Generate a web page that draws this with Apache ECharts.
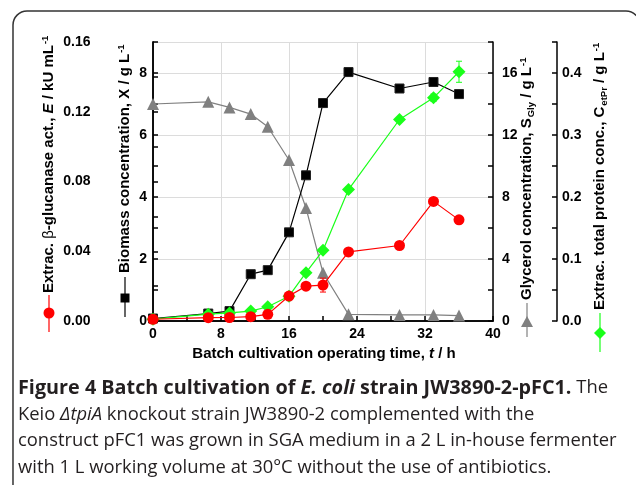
<!DOCTYPE html>
<html>
<head>
<meta charset="utf-8">
<script src="https://cdn.jsdelivr.net/npm/echarts@6/dist/echarts.min.js"></script>
<style>
html,body{margin:0;padding:0;background:#fff;}
#chart{width:636px;height:485px;}
</style>
</head>
<body>
<div id="chart"></div>
<script>
// ---- data ----
var time = [0, 6.5, 9, 11.5, 13.5, 16, 18, 20, 23, 29, 33, 36];
var biomass = [0.08, 0.24, 0.32, 1.51, 1.64, 2.86, 4.70, 7.03, 8.03, 7.50, 7.71, 7.32];
var enzyme = [0.001, 0.0019, 0.002, 0.0025, 0.0038, 0.0143, 0.020, 0.0206, 0.0396, 0.0433, 0.0686, 0.058];
var enzymeErr = [0, 0, 0, 0, 0, 0.001, 0.001, 0.004, 0.001, 0.002, 0.001, 0.0015];
var glycerol = [14.0, 14.14, 13.78, 13.35, 12.53, 10.39, 7.29, 3.11, 0.43, 0.39, 0.39, 0.35];
var protein = [0.003, 0.011, 0.013, 0.016, 0.023, 0.040, 0.078, 0.114, 0.212, 0.325, 0.360, 0.402];
var proteinErr = [0, 0, 0, 0, 0, 0, 0, 0.002, 0.004, 0.003, 0.006, 0.017];
var xTicks = [0, 8, 16, 24, 32, 40];

function pairs(ys) { return time.map(function (t, i) { return [t, ys[i]]; }); }
function triples(ys, es) { return time.map(function (t, i) { return [t, ys[i], es[i]]; }); }

var FONT = '"Liberation Sans", Arial, sans-serif';
var CAP = '"Open Sans", "Noto Sans", sans-serif';
var axisLineStyle = { color: '#000', width: 1.5 };
var labelStyle = { fontFamily: FONT, fontWeight: 'bold', fontSize: 14, color: '#000' };

function errRender(color) {
  return function (params, api) {
    var x = api.value(0), y = api.value(1), e = api.value(2);
    if (!e) return null;
    var top = api.coord([x, y + e]);
    var bot = api.coord([x, y - e]);
    var s = { stroke: color, lineWidth: 1 };
    return {
      type: 'group',
      children: [
        { type: 'line', shape: { x1: top[0], y1: top[1], x2: bot[0], y2: bot[1] }, style: s },
        { type: 'line', shape: { x1: top[0] - 3, y1: top[1], x2: top[0] + 3, y2: top[1] }, style: s },
        { type: 'line', shape: { x1: bot[0] - 3, y1: bot[1], x2: bot[0] + 3, y2: bot[1] }, style: s }
      ]
    };
  };
}

var TS = 15;
var sup = { fontFamily: FONT, fontWeight: 'bold', fontSize: 9.5, padding: [0, 0, 8, 1] };
var sub = { fontFamily: FONT, fontWeight: 'bold', fontSize: 9.5, padding: [8, 0, 0, 1] };
var tb = { fontFamily: FONT, fontWeight: 'bold', fontSize: TS, color: '#000' };
var ti = { fontFamily: FONT, fontWeight: 'bold', fontStyle: 'italic', fontSize: TS, color: '#000' };
var tn = { fontFamily: FONT, fontWeight: 'normal', fontSize: TS, color: '#000' };
var titleRich = { b: tb, i: ti, n: tn, sup: sup, sub: sub };

function vtitle(x, y, text) {
  return {
    type: 'text', x: x, y: y, rotation: Math.PI / 2,
    style: { text: text, rich: titleRich, align: 'left', verticalAlign: 'middle', fill: '#000' }
  };
}

var CS = 18.4;
var capR = { fontFamily: CAP, fontSize: CS, fill: '#231f20' };
var capI = { fontFamily: CAP, fontStyle: 'italic', fontSize: CS, fill: '#231f20' };
var capB = { fontFamily: CAP, fontWeight: 'bold', fontSize: 19.8, fill: '#231f20' };
var capBI = { fontFamily: CAP, fontWeight: 'bold', fontStyle: 'italic', fontSize: 19.8, fill: '#231f20' };

var chart = echarts.init(document.getElementById('chart'));
chart.setOption({
  backgroundColor: '#fff',
  animation: false,
  grid: { left: 153, right: 143, top: 42, bottom: 164 },
  xAxis: [{
    type: 'value', min: 0, max: 40, interval: 4,
    axisLine: { lineStyle: axisLineStyle },
    axisTick: { inside: true, length: 5, lineStyle: { color: '#000', width: 1.5 } },
    axisLabel: Object.assign({ margin: 6, formatter: function (v) { return xTicks.indexOf(v) >= 0 ? String(v) : ''; } }, labelStyle),
    splitLine: { show: false }
  }, {
    type: 'value', min: 0, max: 40, interval: 8, position: 'top',
    axisLine: { lineStyle: axisLineStyle }, axisTick: { show: false }, axisLabel: { show: false },
    splitLine: { show: true, lineStyle: { color: '#dcdcdc', width: 1 } }
  }],
  yAxis: [{
    type: 'value', min: 0, max: 9, interval: 1, position: 'left',
    axisLine: { show: true, lineStyle: axisLineStyle },
    axisTick: { inside: true, length: 5, lineStyle: { color: '#000', width: 1.5 } },
    axisLabel: Object.assign({ margin: 6, formatter: function (v) { return (v % 2 === 0 && v <= 8) ? String(v) : ''; } }, labelStyle),
    splitLine: { show: false }
  }, {
    type: 'value', min: 0, max: 0.16, interval: 0.02, position: 'left', offset: 56.5,
    axisLine: { show: true, lineStyle: axisLineStyle },
    axisTick: { inside: true, length: 5, lineStyle: { color: '#000', width: 1.5 } },
    axisLabel: Object.assign({ margin: 6, formatter: function (v) { var k = Math.round(v * 100); return k % 4 === 0 ? (k / 100).toFixed(2) : ''; } }, labelStyle),
    splitLine: { show: false }
  }, {
    type: 'value', min: 0, max: 18, interval: 2, position: 'right',
    axisLine: { show: true, lineStyle: axisLineStyle },
    axisTick: { inside: true, length: 5, lineStyle: { color: '#000', width: 1.5 } },
    axisLabel: Object.assign({ margin: 9, formatter: function (v) { return (v % 4 === 0 && v <= 16) ? String(v) : ''; } }, labelStyle),
    splitLine: { show: false }
  }, {
    type: 'value', min: 0, max: 0.45, interval: 0.05, position: 'right', offset: 64,
    axisLine: { show: true, lineStyle: axisLineStyle },
    axisTick: { inside: true, length: 5, lineStyle: { color: '#000', width: 1.5 } },
    axisLabel: Object.assign({ margin: 5, formatter: function (v) { var k = Math.round(v * 100); return (k % 10 === 0 && k <= 40) ? (k / 100).toFixed(1) : ''; } }, labelStyle),
    splitLine: { show: false }
  }, {
    type: 'value', min: 0, max: 9, interval: 2, position: 'left',
    axisLine: { show: false }, axisTick: { show: false }, axisLabel: { show: false },
    splitLine: { show: true, lineStyle: { color: '#dcdcdc', width: 1 } }
  }],
  series: [{
    name: 'Glycerol', type: 'line', xAxisIndex: 0, yAxisIndex: 2, data: pairs(glycerol),
    symbol: 'triangle', symbolSize: 12, itemStyle: { color: '#808080' },
    lineStyle: { color: '#808080', width: 1.2 }, z: 3
  }, {
    name: 'Biomass', type: 'line', xAxisIndex: 0, yAxisIndex: 0, data: pairs(biomass),
    symbol: 'rect', symbolSize: 9, itemStyle: { color: '#000', borderColor: '#222', borderWidth: 1 },
    lineStyle: { color: '#000', width: 1.2 }, z: 4
  }, {
    name: 'Protein', type: 'line', xAxisIndex: 0, yAxisIndex: 3, data: pairs(protein),
    symbol: 'diamond', symbolSize: 13, itemStyle: { color: '#1aff1a' },
    lineStyle: { color: '#1aff1a', width: 1.2 }, z: 5
  }, {
    name: 'Enzyme', type: 'line', xAxisIndex: 0, yAxisIndex: 1, data: pairs(enzyme),
    symbol: 'circle', symbolSize: 11, itemStyle: { color: '#ff0000' },
    lineStyle: { color: '#ff0000', width: 1.2 }, z: 6
  }, {
    type: 'custom', xAxisIndex: 0, yAxisIndex: 1, data: triples(enzyme, enzymeErr),
    renderItem: errRender('#ff0000'), z: 6
  }, {
    type: 'custom', xAxisIndex: 0, yAxisIndex: 3, data: triples(protein, proteinErr),
    renderItem: errRender('#1aff1a'), z: 5
  }],
  graphic: [
    { type: 'rect', shape: { x: 13, y: 11, width: 627, height: 600, r: 14 }, style: { fill: null, stroke: '#333', lineWidth: 1.5 }, silent: true },
    // axis titles
    vtitle(49, 293, '{b|Extrac. }{n|β}{b|-glucanase act., }{i|E}{b| / kU mL}{sup|-1}'),
    vtitle(125, 273, '{b|Biomass concentration, X / g L}{sup|-1}'),
    vtitle(527, 300, '{b|Glycerol concentration, S}{sub|Gly}{b| / g L}{sup|-1}'),
    vtitle(600, 310, '{b|Extrac. total protein conc., C}{sub|etPr}{b| / g L}{sup|-1}'),
    // legend marks beside titles
    { type: 'line', shape: { x1: 49, y1: 295, x2: 49, y2: 332 }, style: { stroke: '#ff0000', lineWidth: 1.2 } },
    { type: 'circle', shape: { cx: 49, cy: 313, r: 5.5 }, style: { fill: '#ff0000' } },
    { type: 'line', shape: { x1: 125, y1: 277, x2: 125, y2: 317 }, style: { stroke: '#000', lineWidth: 1.2 } },
    { type: 'rect', shape: { x: 120.5, y: 293.5, width: 9, height: 9 }, style: { fill: '#000' } },
    { type: 'line', shape: { x1: 527, y1: 303, x2: 527, y2: 337 }, style: { stroke: '#808080', lineWidth: 1.2 } },
    { type: 'polygon', shape: { points: [[527, 316], [533, 327], [521, 327]] }, style: { fill: '#808080' } },
    { type: 'line', shape: { x1: 600, y1: 313, x2: 600, y2: 352 }, style: { stroke: '#1aff1a', lineWidth: 1.2 } },
    { type: 'polygon', shape: { points: [[600, 327], [606, 333], [600, 339], [594, 333]] }, style: { fill: '#1aff1a' } },
    // x axis title
    { type: 'text', x: 324, y: 354, style: { text: '{b|Batch cultivation operating time, }{i|t}{b| / h}', rich: titleRich, align: 'center', verticalAlign: 'middle' } },
    // caption
    { type: 'text', x: 18, y: 388, style: { text: '{b|Figure 4 Batch cultivation of }{bi|E. coli}{b| strain JW3890-2-pFC1.}{r| The}', align: 'left', verticalAlign: 'middle',
      rich: { b: capB, bi: capBI, r: capR } } },
    { type: 'text', x: 18, y: 415, style: { text: '{r|Keio }{it|ΔtpiA}{r| knockout strain JW3890-2 complemented with the}', align: 'left', verticalAlign: 'middle',
      rich: { r: capR, it: capI } } },
    { type: 'text', x: 18, y: 441, style: { text: '{r|construct pFC1 was grown in SGA medium in a 2 L in-house fermenter}', rich: { r: capR }, align: 'left', verticalAlign: 'middle' } },
    { type: 'text', x: 18, y: 468, style: { text: '{r|with 1 L working volume at 30°C without the use of antibiotics.}', rich: { r: capR }, align: 'left', verticalAlign: 'middle' } }
  ]
});
</script>
</body>
</html>
